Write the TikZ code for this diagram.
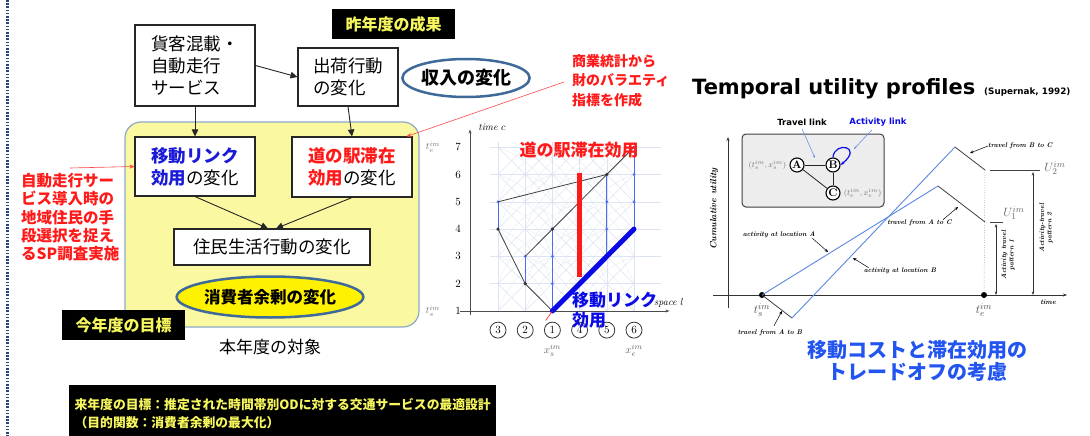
\documentclass[tikz,border=0pt]{standalone}
\usepackage[no-math]{fontspec}
\setmainfont{Noto Sans CJK JP}
\newfontfamily\lmr{Latin Modern Roman}
\newfontfamily\dejavu{DejaVu Sans}
\usetikzlibrary{arrows.meta,shapes.geometric,calc}
\newcommand\fsz[2]{\fontsize{#1}{#2}\selectfont}
\definecolor{jyel}{HTML}{F6F65E}
\definecolor{ybox}{HTML}{FAF8A0}
\definecolor{ybord}{HTML}{8EA9C8}
\definecolor{eblue}{HTML}{3E6A9A}
\definecolor{jred}{HTML}{FF1A1A}
\definecolor{jblue}{HTML}{1A1AD8}
\definecolor{tblue}{HTML}{0A0AE6}
\definecolor{cblue}{HTML}{4A6CF0}
\definecolor{gridc}{HTML}{DDE3F0}
\definecolor{lblue}{HTML}{5B87E0}
\definecolor{btext}{HTML}{2255F0}
\definecolor{navy}{HTML}{2B3F7A}
\begin{document}
\begin{tikzpicture}[x=1pt,y=-1pt,
 jbox/.style={draw=black!85, line width=1.1pt, fill=white, align=left, inner sep=0pt, font=\fsz{17.5}{22}},
 blk/.style={fill=black, text=jyel, font=\bfseries\fsz{16}{20}, inner sep=0pt},
 arr/.style={-{Triangle[length=7pt,width=6.5pt]}, line width=0.9pt, draw=black!85},
 redarr/.style={-{Stealth[length=5pt,width=4pt]}, line width=0.6pt, draw=jred!80},
 faint/.style={draw=gridc, line width=0.5pt},
 bvert/.style={draw=cblue, line width=0.9pt},
 bpath/.style={draw=black!75, line width=0.8pt},
 ann/.style={font=\lmr\bfseries\itshape\fsz{6.8}{7.5}, inner sep=0pt},
 annarr/.style={-{Stealth[length=3.5pt,width=3pt]}, line width=0.5pt},
 ublue/.style={draw=lblue, line width=0.9pt},
 dotn/.style={circle, fill=black, inner sep=0pt, minimum size=6pt},
 ABC/.style={circle, draw=black, line width=1.1pt, fill=white, inner sep=0pt, minimum size=14pt, font=\lmr\bfseries\fsz{11}{11}},
 numc/.style={circle, draw=black!80, line width=0.8pt, minimum size=16pt, inner sep=0pt, font=\lmr\fsz{11}{11}}
]
\useasboundingbox (0,0) rectangle (1090,436);
\fill[white] (0,0) rectangle (1090,436);
% left dotted border
\draw[navy, line width=3pt, dash pattern=on 1.6pt off 1.6pt] (7,0) -- (7,436);

% ===== left diagram =====
\node[draw=ybord, line width=1.2pt, fill=ybox, rounded corners=16pt, minimum width=294pt, minimum height=205pt, inner sep=0pt] (cont) at (272,224.5) {};
\node[jbox, minimum width=120pt, minimum height=81pt] (b1) at (195,65.5) {貨客混載・\\自動走行\\サービス};
\node[jbox, minimum width=100pt, minimum height=58pt] (b2) at (348,77) {出荷行動\\の変化};
\node[jbox, minimum width=120pt, minimum height=59pt] (b3) at (195,166.5) {{\bfseries\color{jblue}移動リンク}\\{\bfseries\color{jblue}効用}の変化};
\node[jbox, minimum width=120pt, minimum height=60pt] (b4) at (352,167) {{\bfseries\color{jred}道の駅滞在}\\{\bfseries\color{jred}効用}の変化};
\node[jbox, minimum width=196pt, minimum height=36pt] (b5) at (272,247) {住民生活行動の変化};
\node[ellipse, draw=eblue, line width=2.5pt, fill=yellow, minimum width=186pt, minimum height=41pt, inner sep=0pt, font=\bfseries\fsz{16.5}{20}] (e1) at (270,297) {消費者余剰の変化};
\node[ellipse, draw=eblue, line width=2.5pt, fill=white, minimum width=126pt, minimum height=38pt, inner sep=0pt, font=\bfseries\fsz{18}{20}] (e2) at (466,78) {収入の変化};

\draw[arr] (b1) -- (b3);
\draw[arr] (b2.south) -- (b4.north);
\draw[arr] (b1.east) -- (b2.west);
\draw[arr] (b3.south) -- ([xshift=-4pt]b5.north);
\draw[arr] (b4.south) -- ([xshift=4pt]b5.north);

\node[blk, minimum width=123pt, minimum height=30pt] (l1) at (393.5,24) {昨年度の成果};
\node[blk, minimum width=123pt, minimum height=30pt] (l2) at (123.5,325) {今年度の目標};
\node[blk, anchor=north west, minimum width=427pt, minimum height=56pt, align=left, font=\bfseries\fsz{12.8}{18}] (l3) at (69,385) {来年度の目標：推定された時間帯別ODに対する交通サービスの最適設計\\（目的関数：消費者余剰の最大化）};
\node[font=\fsz{17}{20}] (cap) at (270,347) {本年度の対象};

\node[anchor=north west, align=left, inner sep=0pt, text=jred, font=\bfseries\fsz{15.5}{18.3}] (rt1) at (21,173) {自動走行サー\\ビス導入時の\\地域住民の手\\段選択を捉え\\るSP調査実施};
\node[anchor=north west, align=left, inner sep=0pt, text=jred, font=\bfseries\fsz{14}{19.5}] (rt2) at (572,54) {商業統計から\\財のバラエティ\\指標を作成};
\coordinate (ra1) at (70,168);
\draw[redarr] (ra1) -- (b3.west);
\coordinate (ra2) at (564,82);
\draw[redarr] (ra2) -- ([xshift=-6pt]b4.north east);

% ===== time-space chart =====
\begin{scope}[shift={(498,311)}, x=27.2pt, y=27.3pt]
 \foreach \k in {0,...,5} { \draw[faint] (\k,0) -- (\k,6.2); }
 \foreach \t in {0,...,6} { \draw[faint] (-0.3,\t) -- (6.0,\t); }
 \foreach \k in {0,...,4} { \foreach \t in {0,...,5} {
   \draw[faint] (\k,\t) -- (\k+1,\t+1); \draw[faint] (\k+1,\t) -- (\k,\t+1); } }
 \foreach \k in {0,...,3} { \foreach \t in {0,...,4} {
   \draw[faint, opacity=0.6] (\k,\t) to[bend left=25] (\k+2,\t+2);
   \draw[faint, opacity=0.6] (\k+2,\t) to[bend right=25] (\k,\t+2); } }
 \draw[black!70, line width=0.7pt, -{Stealth[length=4pt]}] (-1.03,-0.15) -- (-1.03,6.65);
 \draw[black!70, line width=0.7pt, -{Stealth[length=4pt]}] (-1.4,0) -- (6.3,0);
 \foreach \t in {1,...,7} { \node[font=\lmr\fsz{11}{11}, inner sep=0pt] at (-1.47,\t-1) {\t}; }
 \foreach \l [count=\i from 0] in {3,2,1,4,5,6} { \node[numc] (c\l) at (\i,-0.7) {\l}; }
 \node[text=black!60, font=\fsz{11}{11}] (xs) at (2,-1.45) {$x_s^{im}$};
 \node[text=black!60, font=\fsz{11}{11}] (xe) at (5,-1.45) {$x_e^{im}$};
 \draw[bvert] (0,3) -- (0,4);
 \draw[bvert] (1,1) -- (1,2);
 \draw[bvert] (2,0) -- (2,3);
 \draw[bvert] (4,2) -- (4,5);
 \draw[bvert] (5,3) -- (5,6);
 \foreach \p in {(0,4),(1,2),(2,1),(2,2),(4,3),(4,4),(5,4),(5,5),(5,6)} { \fill[cblue] \p circle (1.5pt); }
 \draw[bpath] (2,0) -- (1,1) -- (0,3);
 \draw[bpath] (0,4) -- (4,5);
 \draw[bpath] (1,2) -- (2,3) -- (3,4) -- (4,5) -- (5,6);
 \foreach \p in {(1,1),(0,3),(2,3),(3,4),(4,5)} { \fill[black!80] \p circle (1.8pt); }
 \draw[jred, line width=5pt] (3,1.25) -- (3,5.05);
 \draw[tblue, line width=5pt, line cap=round] (2,0) -- (5,3);
 \draw[jred, line width=0.6pt] (2,0) -- (1.75,-0.35);
\end{scope}
\node[font=\lmr\itshape\fsz{10}{10}] (tc) at (492,127) {time $c$};
\node[anchor=east, font=\lmr\itshape\fsz{10}{10}] (sl) at (687,303) {space $l$};
\node[text=black!55, font=\fsz{10}{10}] (tel) at (433,147) {$t_e^{im}$};
\node[text=black!55, font=\fsz{10}{10}] (tsl) at (433,311) {$t_s^{im}$};
\node[text=jred, font=\bfseries\fsz{17}{20}] (lr) at (579,150) {道の駅滞在効用};
\node[anchor=north west, text=tblue, align=left, font=\bfseries\fsz{17}{20}, inner sep=0pt] (lb) at (572,292) {移動リンク\\効用};

% ===== right panel =====
\node[anchor=base west, inner sep=0pt, font=\dejavu\bfseries\fsz{21}{24}] (title) at (692,95) {Temporal utility profiles};
\node[anchor=base west, inner sep=0pt, font=\dejavu\bfseries\fsz{8.8}{10}] (cite) at (984,95) {(Supernak, 1992)};

\node[draw=black!75, line width=1pt, fill=black!7, rounded corners=4pt, minimum width=142pt, minimum height=73pt, inner sep=0pt] (inset) at (813,170.5) {};
\node[ABC] (A) at (797,165) {A};
\node[ABC] (B) at (833,165) {B};
\node[ABC] (C) at (833,193) {C};
\draw[black!85, line width=0.8pt] (A) -- (B);
\draw[black!85, line width=0.8pt] (B) -- (C);
\draw[black!85, line width=0.8pt] (A) -- (C);
\draw[tblue, line width=1.2pt, -{Stealth[length=4pt]}] (B.north) .. controls (834,141) and (864,146) .. (B.east);
\node[anchor=east, text=black!55, font=\fsz{8}{8}, inner sep=0pt] (Al) at ([xshift=-3pt]A.west) {$(t_s^{im},x_s^{im})$};
\node[anchor=west, text=black!55, font=\fsz{8}{8}, inner sep=0pt] (Cl) at ([xshift=3pt]C.east) {$(t_e^{im},x_e^{im})$};
\node[font=\dejavu\bfseries\fsz{8.5}{10}] (tl) at (802,122) {Travel link};
\node[text=tblue, font=\dejavu\bfseries\fsz{8.5}{10}] (al) at (878,122) {Activity link};
\coordinate (tlp) at (815,158);
\coordinate (alp) at (854,149);
\draw[lblue, line width=0.5pt, -{Stealth[length=3pt]}] (tl.south) -- (tlp);
\draw[lblue, line width=0.5pt, -{Stealth[length=3pt]}] ([xshift=-6pt]al.south) -- (alp);

\draw[black!80, line width=0.6pt, -{Stealth[length=4pt]}] (728,308) -- (728,137);
\draw[black!80, line width=0.6pt, -{Stealth[length=4pt]}] (713,295) -- (1067,295);
\node[rotate=90, font=\lmr\bfseries\itshape\fsz{9}{9}] (cu) at (714,209) {Cumulative utility};
\node[font=\lmr\bfseries\itshape\fsz{7}{7}] (tm) at (1048,302) {time};

\node[dotn] (ts) at (762,295) {};
\node[dotn] (te) at (984,295) {};
\coordinate (pA) at (938,186);
\coordinate (u1) at (985,222);
\coordinate (pB0) at (792,318);
\coordinate (pB) at (955,147);
\coordinate (u2) at (985,170);
\draw[ublue] (ts.center) -- (pA);
\draw[black!75, line width=0.8pt] (pA) -- (u1);
\draw[black!75, line width=0.8pt] (ts.center) -- (pB0);
\draw[ublue] (pB0) -- (pB);
\draw[black!75, line width=0.8pt] (pB) -- (u2);
\draw[black!60, line width=0.5pt, dotted] (u2) -- (te);
\coordinate (U2a) at (990,170); \coordinate (U2b) at (1040,170);
\coordinate (U1a) at (990,222); \coordinate (U1b) at (1003,222);
\draw[black!75, line width=0.8pt] (U2a) -- (U2b);
\draw[black!75, line width=0.8pt] (U1a) -- (U1b);
\coordinate (p1t) at (996,224); \coordinate (p1b) at (996,295);
\coordinate (p2t) at (1033,172); \coordinate (p2b) at (1033,295);
\draw[black!80, line width=0.6pt, {Stealth[length=3.5pt]}-{Stealth[length=3.5pt]}] (p1t) -- (p1b);
\draw[black!80, line width=0.6pt, {Stealth[length=3.5pt]}-{Stealth[length=3.5pt]}] (p2t) -- (p2b);
\node[text=black!60, font=\fsz{13}{13}] (U2l) at (1055,168) {$U_2^{im}$};
\node[text=black!60, font=\fsz{13}{13}] (U1l) at (1014,213) {$U_1^{im}$};
\node[rotate=90, align=center, font=\lmr\bfseries\itshape\fsz{6.8}{7.5}] (pt1) at (1008,255) {Activity travel\\pattern 1};
\node[rotate=90, align=center, font=\lmr\bfseries\itshape\fsz{6.8}{7.5}] (pt2) at (1046,228) {Activity-travel\\pattern 2};
\node[text=black!70, font=\fsz{13}{13}] (tsl2) at (762,310) {$t_s^{im}$};
\node[text=black!70, font=\fsz{13}{13}] (tel2) at (984,310) {$t_e^{im}$};

\node[ann, anchor=west] (aBC) at (988,146) {travel from B to C};
\coordinate (aBCp) at (970,153);
\draw[annarr] (aBC.west) -- (aBCp);
\node[ann, anchor=east] (aAC) at (952,223) {travel from A to C};
\coordinate (aACp) at (958,207);
\draw[annarr] ([xshift=-9pt]aAC.north east) -- (aACp);
\node[ann] (aLA) at (779,235) {activity at location A};
\coordinate (aLAp) at (828,252);
\draw[annarr] ([xshift=-3pt]aLA.south east) -- (aLAp);
\node[ann] (aLB) at (900,271) {activity at location B};
\coordinate (aLBp) at (853,258);
\draw[annarr] ([xshift=5pt]aLB.north west) -- (aLBp);
\node[ann] (aAB) at (770,333) {travel from A to B};
\coordinate (aABp) at (782,311);
\draw[annarr] ([xshift=4pt,yshift=4pt]aAB.north) -- (aABp);

\node[text=btext, align=center, font=\bfseries\fsz{20}{22}] (conc) at (917,361) {移動コストと滞在効用の\\トレードオフの考慮};
\end{tikzpicture}
\end{document}
